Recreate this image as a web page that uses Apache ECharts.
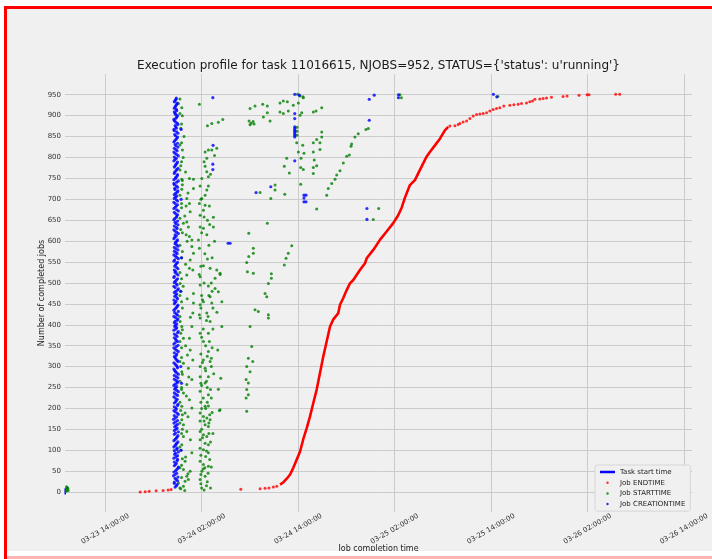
<!DOCTYPE html>
<html><head><meta charset="utf-8">
<script src="https://cdn.jsdelivr.net/npm/echarts@6/dist/echarts.min.js"></script>
<style>
html,body{margin:0;padding:0;background:#fff;}
#wrap{position:relative;width:712px;height:559px;overflow:hidden;background:#fff;}
#bg{position:absolute;left:7px;top:9px;width:705px;height:542px;background:#f0f0f0;}
#chart{position:absolute;left:0;top:0;width:712px;height:559px;}
.red{position:absolute;background:#ff0000;z-index:5;}
#bottomWhite{position:absolute;left:7px;top:551px;width:705px;height:8px;background:#fff;z-index:4;}
#pink{position:absolute;left:7px;top:556px;width:705px;height:3px;background:#ffb4b4;z-index:5;}
</style></head>
<body>
<div id="wrap"><div id="bg"></div><div id="chart"></div>
<div class="red" style="left:4px;top:6px;width:3px;height:553px"></div>
<div class="red" style="left:4px;top:6px;width:708px;height:3px"></div>
<div id="bottomWhite"></div><div id="pink"></div></div>
<script>
// ---- data (x = hours since 03-23 00:00, y = number of completed jobs) ----
const titleText = "Execution profile for task 11016615, NJOBS=952, STATUS={'status': u'running'}";
const xTickLabels = ['03-23 14:00:00','03-24 02:00:00','03-24 14:00:00','03-25 02:00:00','03-25 14:00:00','03-26 02:00:00','03-26 14:00:00'];
const yTicks = [0,50,100,150,200,250,300,350,400,450,500,550,600,650,700,750,800,850,900,950];
const xRangeHours = [9, 87];
const yRange = [-47.6, 999.6];

const taskStart = [[9.03,-6],[9.03,9]];

const endDots = [[18.35,0],[18.97,1],[19.47,2],[20.34,3],[21.21,4],[21.83,5],[22.20,6],[30.87,7],[33.27,8],[33.89,9],[34.38,10],[34.92,12],[35.34,14],
 [56.88,875],[57.50,876],[57.91,879],[58.12,881],[58.53,885],[58.96,887],[59.37,893],[59.78,899],[60.20,903],[60.61,904],[61.02,905],[61.44,907],[61.85,911],[62.26,915],[62.68,917],[63.09,919],[63.59,923],[64.34,925],[64.84,926],[65.37,927],[65.79,929],[66.41,930],[66.82,933],[67.16,935],[67.45,939],[68.07,940],[68.48,941],[68.90,942],[69.52,944],[70.96,946],[71.46,947],[72.95,949],[73.95,950],[74.19,950],[77.51,951],[78.01,951]];

const endCurve = [[35.75,18],[36.16,23],[36.58,32],[37.00,42],[37.40,58],[37.83,78],[38.24,97],[38.65,127],[39.07,153],[39.48,181],[39.89,213],[40.31,245],[40.72,285],[41.13,324],[41.55,360],[41.97,396],[42.38,413],[43.00,428],[43.21,448],[43.62,464],[44.04,483],[44.45,499],[44.86,507],[45.69,531],[46.32,547],[46.53,559],[47.35,579],[48.18,603],[49.01,623],[49.83,643],[50.45,662],[50.88,680],[51.29,704],[51.91,734],[52.53,746],[52.94,762],[53.56,786],[53.98,802],[54.39,813],[55.02,829],[55.64,845],[56.26,865],[56.67,873]];

const startTimes = [
 [9.15,2],[9.20,5],[9.30,8],[9.25,11],[9.40,4],[9.35,9],[9.20,13],
 // column next to creation times
 [23.11,929],[23.53,919],[23.61,818],[23.53,748],[23.53,724],[24.48,750],[24.98,748],[24.98,726],[24.15,702],[24.48,690],[24.07,684],[24.57,670],[23.73,643],[24.15,646],[24.35,634],[24.07,615],[24.48,611],[24.78,603],[24.78,587],[24.98,571],[24.57,555],[24.48,535],[24.90,531],[24.15,519],
 [23.30,940],[23.60,900],[23.40,870],[23.80,850],[23.50,835],[23.70,800],[23.40,780],[24.00,765],[23.60,735],[24.30,715],[23.50,690],[23.90,660],[23.40,628],[24.20,600],[23.60,575],[24.00,545],[23.50,510],
 [23.32,499],[24.98,475],[24.98,452],[24.90,428],[23.32,408],[23.53,396],[24.78,396],[23.73,368],[24.48,368],[24.57,340],[24.23,328],[24.90,316],[23.73,308],[24.35,296],[23.53,288],[24.78,269],[24.15,257],[23.73,237],[24.48,221],[23.53,205],[24.78,201],[23.94,189],[23.53,173],[23.73,161],[24.15,145],[23.73,133],[23.53,113],[24.78,94],[23.94,74],[23.73,54],[24.57,50],[24.15,38],[23.94,26],[24.35,30],[23.11,22],[23.73,14],
 [23.40,480],[24.20,462],[23.60,440],[24.60,418],[23.40,380],[24.00,350],[23.50,322],[24.40,275],[23.50,250],[24.10,230],[23.40,195],[24.30,180],[23.60,150],[24.60,125],[23.40,100],[24.00,84],[23.50,64],[24.30,44],[23.40,8],[23.90,4],
 [23.30,10],[23.50,35],[23.30,58],[23.60,80],[23.30,108],[23.50,140],[23.30,165],[23.60,185],[23.30,215],[23.50,245],[23.30,265],[23.60,282],[23.30,312],[23.50,345],[23.30,360],[23.60,388],[23.30,420],[23.50,455],[23.30,470],[23.70,492],[23.30,525],[23.50,560],[23.30,590],[23.60,620],[23.30,655],[23.50,680],[23.30,710],[23.60,745],[23.30,770],[23.50,790],[23.30,830],[23.50,880],[23.30,905],
 // second column
 [25.72,927],[26.72,876],[27.26,881],[28.08,884],[28.63,891],
 [26.43,813],[26.84,818],[27.26,818],[27.88,822],[26.64,798],[26.43,779],[26.64,766],[26.84,754],[26.02,750],[25.81,732],[26.84,732],[26.64,722],[26.43,710],[26.02,702],[25.72,690],[26.43,686],[26.96,684],[26.22,674],[25.81,662],[26.30,658],[27.46,657],[26.72,650],[27.46,634],[26.22,631],[25.81,634],[26.64,615],[25.60,603],[25.72,583],[26.72,557],[26.22,541],[27.05,535],[27.88,531],[28.29,523],[27.67,511],[25.81,515],
 [27.60,600],[26.00,620],[27.00,640],[25.90,700],[27.10,760],[26.30,790],[27.60,805],
 [25.81,495],[26.84,493],[27.67,487],[28.08,479],[27.05,467],[26.22,455],[28.51,455],[27.26,452],[25.81,448],[25.72,424],[26.64,428],[25.81,416],[27.05,408],[28.51,396],[25.81,380],[26.84,380],[26.22,360],[26.96,360],[26.84,336],[26.22,316],[27.05,312],[25.81,300],[26.43,296],[25.81,276],[26.84,276],[28.38,272],[26.43,261],[28.08,246],[25.81,241],[26.84,233],[26.43,205],[26.84,206],[28.21,195],[25.81,189],[26.22,181],[26.64,177],[27.05,173],[26.43,161],[26.84,157],[25.81,145],[26.22,137],[26.64,133],[25.81,125],[26.43,117],[26.84,113],[26.22,101],[26.84,94],[25.81,74],[26.22,66],[26.84,62],[26.02,50],[26.43,38],[25.81,30],[28.29,197],
 [25.70,520],[26.30,500],[27.30,480],[26.00,470],[25.90,440],[26.60,410],[27.40,390],[26.00,370],[26.50,350],[25.90,330],[27.20,320],[26.50,290],[27.50,283],[25.90,260],[26.70,250],[27.20,225],[25.90,215],[26.50,200],[27.30,190],[25.80,170],[26.90,165],[26.00,150],[27.40,140],[25.80,105],[26.50,85],[27.00,78],[26.20,55],[26.80,45],[25.90,20],[26.60,15],[27.10,10],[26.30,5],[28.00,340],[27.90,430],[28.30,520],
 [26.00,10],[26.70,25],[25.90,42],[26.40,58],[27.20,60],[25.90,88],[26.60,98],[27.10,120],[26.10,130],[26.90,140],[26.30,170],[27.00,185],[26.00,200],[26.70,215],[26.20,225],[27.10,245],[26.00,255],[26.60,265],[27.20,300],[26.10,310],[26.70,325],[27.30,345],[26.20,390],[26.80,420],[27.40,440],[26.10,460],[26.90,470],[27.20,500],[25.90,540],[26.40,570],[27.30,560],[26.90,590],
 // third column
 [34.30,499],[33.89,475],[34.10,467],[32.64,436],[33.05,432],[34.30,424],[34.30,416],[32.02,396],[32.23,348],[31.81,320],[32.36,312],[31.61,300],[32.02,288],[31.53,269],[31.81,261],[31.61,245],[31.81,233],[31.53,225],[31.61,193],
 [31.86,619],[32.43,583],[32.43,571],[31.86,563],[31.61,549],[31.69,527],[32.43,523],[34.67,522],[34.67,511],[37.21,589],[36.78,571],[36.50,559],[36.28,543],[34.17,643],
 // upper scattered
 [32.02,917],[32.64,923],[33.60,927],[34.17,923],[34.17,907],[33.68,897],[34.51,887],[31.90,887],[32.15,882],[32.40,886],[32.02,878],[32.52,880],
 [35.75,930],[36.16,935],[36.66,933],[37.40,925],[38.03,930],[38.65,943],[35.75,909],[36.16,905],[36.78,911],[38.24,901],[38.45,907],[39.89,909],[40.23,911],[40.94,919],
 [37.93,951],[38.24,947],[38.61,945],
 [37.86,872],[37.86,863],[37.86,853],[37.83,835],[38.57,829],[38.03,813],[38.73,810],[38.36,798],[36.58,798],[36.28,779],[36.91,763],[38.32,776],[38.65,771],[38.32,736],
 [39.89,835],[40.31,843],[40.94,849],[40.94,861],[40.72,819],[39.89,813],[40.01,794],[39.89,776],[39.89,762],[40.31,780],[40.72,835],
 [35.13,734],[35.13,722],[33.27,716],[34.60,702],[36.34,712],[40.31,677],
 [41.56,710],[41.75,726],[42.18,738],[42.59,748],[42.80,758],[43.21,768],[43.62,787],[44.04,803],[44.37,806],[44.58,827],[44.66,832],[45.07,849],[45.48,857],[46.44,867],[46.73,869],
 [47.35,652],[48.02,678],
 [50.67,950],[50.85,943],[62.85,946]
];

const creationTimes = [
 [22.70,12],[22.95,18],[22.60,24],[22.85,30],[23.05,36],[22.70,42],[22.55,48],[22.90,54],[23.10,60],[22.75,66],[22.60,72],[23.00,78],[22.80,84],[22.65,90],[23.10,96],[22.90,102],[22.55,108],[22.80,114],[23.05,120],[22.70,126],[22.95,132],[22.60,138],[23.10,144],[22.80,150],[22.65,156],[23.00,162],[22.75,168],[22.50,174],[22.90,180],[23.10,186],[22.70,192],[22.85,198],[22.60,204],[23.05,210],[22.75,216],[22.95,222],[22.55,228],[22.80,234],[23.10,240],[22.65,246],[22.90,252],[22.70,258],[23.00,264],[22.60,270],[22.85,276],[23.10,282],[22.75,288],[22.55,294],[22.95,300],[22.70,306],[23.05,312],[22.80,318],[22.60,324],[22.90,330],[23.10,336],[22.70,342],[22.85,348],[22.55,354],[23.00,360],[22.75,366],[22.95,372],[22.60,378],[23.10,384],[22.80,390],[22.65,396],[22.90,402],[22.70,408],[23.05,414],[22.55,420],[22.85,426],[23.10,432],[22.70,438],[22.95,444],[22.60,450],[22.80,456],[23.00,462],[22.65,468],[22.90,474],[22.75,480],[23.10,486],[22.55,492],[22.85,498],[22.70,504],[23.00,510],[22.60,516],[22.90,522],[22.75,528],[23.05,534],[22.65,540],[22.85,546],[22.55,552],[23.10,558],[22.75,564],[22.95,570],[22.60,576],[22.80,582],[23.05,588],[22.70,594],[22.90,600],[22.55,606],[22.85,612],[23.10,618],[22.70,624],[22.95,630],[22.60,636],[22.80,642],[23.00,648],[22.65,654],[22.90,660],[22.75,666],[23.10,672],[22.55,678],[22.85,684],[22.70,690],[23.00,696],[22.60,702],[22.90,708],[22.75,714],[23.05,720],[22.65,726],[22.85,732],[22.55,738],[23.10,744],[22.75,750],[22.95,756],[22.60,762],[22.80,768],[23.05,774],[22.70,780],[22.90,786],[22.55,792],[22.85,798],[23.10,804],[22.70,810],[22.95,816],[22.60,822],[22.80,828],[23.00,834],[22.65,840],[22.90,846],[22.75,852],[23.05,858],[22.60,864],[22.85,870],[22.70,876],[22.95,882],[22.60,888],[22.80,894],[23.00,900],[22.70,906],[22.90,912],[22.60,918],[22.80,924],[22.95,930],[22.70,936],[22.85,942],
 [22.85,15],[22.60,21],[23.00,27],[22.70,33],[22.50,39],[22.90,45],[22.75,51],[23.05,57],[22.60,63],[22.85,69],[22.95,75],[22.55,81],[23.00,87],[22.75,93],[22.60,99],[22.95,105],[22.70,111],[22.90,117],[22.55,123],[22.85,129],[23.05,135],[22.75,141],[22.60,147],[22.95,153],[22.80,159],[22.55,165],[23.00,171],[22.70,177],[22.60,183],[22.95,189],[22.55,195],[22.80,201],[23.00,207],[22.60,213],[22.85,219],[22.70,225],[23.00,231],[22.60,237],[22.90,243],[22.75,249],[22.55,255],[22.95,261],[22.80,267],[23.05,273],[22.60,279],[22.90,285],[22.65,291],[23.00,297],[22.85,303],[22.55,309],[22.95,315],[22.70,321],[22.85,327],[22.60,333],[22.90,339],[22.55,345],[23.05,351],[22.70,357],[22.85,363],[22.60,369],[22.80,375],[23.00,381],[22.55,387],[22.90,393],[22.75,399],[22.60,405],[22.95,411],[22.75,417],[23.00,423],[22.65,429],[22.55,435],[22.85,441],[23.05,447],[22.70,453],[22.55,459],[22.90,465],[22.80,471],[22.60,477],[23.00,483],[22.70,489],[22.95,495],[22.60,501],[22.85,507],[22.55,513],[23.05,519],[22.70,525],[22.60,531],[22.90,537],[22.75,543],[23.00,549],[22.65,555],[22.90,561],[22.55,567],[22.80,573],[23.05,579],[22.60,585],[22.90,591],[22.75,597],[23.00,603],[22.65,609],[22.70,615],[22.90,621],[22.55,627],[22.85,633],[23.05,639],[22.70,645],[22.55,651],[22.85,657],[23.00,663],[22.60,669],[22.90,675],[22.70,681],[23.00,687],[22.55,693],[22.85,699],[22.75,705],[22.60,711],[22.95,717],[22.70,723],[23.00,729],[22.60,735],[22.90,741],[22.55,747],[22.80,753],[23.00,759],[22.65,765],[22.90,771],[22.60,777],[22.80,783],[23.00,789],[22.70,795],[22.60,801],[22.90,807],[22.55,813],[22.80,819],[23.05,825],[22.70,831],[22.55,837],[22.80,843],[23.00,849],[22.65,855],[22.90,861],[22.55,867],[22.80,873],[23.05,879],[22.75,885],[22.55,891],[22.90,897],[22.75,903],[22.60,909],[22.85,915],[22.70,921],[22.90,927],[22.60,933],[22.80,939],
 [23.45,100],[23.50,260],[23.40,480],[23.45,700],[23.45,867],[23.40,300],[23.50,560],
 [27.39,943],[27.42,829],[27.39,784],[27.39,771],[29.29,595],[29.54,595],[32.77,716],[34.60,730],
 [37.58,951],[38.15,949],[37.58,905],[37.58,893],[37.58,873],[37.58,869],[37.58,865],[37.58,861],[37.58,857],[37.58,853],[37.58,849],[37.58,792],
 [38.73,710],[38.73,703],[38.73,694],[38.98,710],[38.98,694],
 [46.85,939],[47.47,949],[46.85,889],[46.56,678],[46.56,652],
 [50.48,950],[50.48,943],[62.29,951],[62.72,945]
];

// ---- helpers ----
const BASE = Date.UTC(2016, 2, 23);
const toTs = h => BASE + h * 3600000;
const pts = arr => arr.map(p => [toTs(p[0]), p[1]]);
const parseTick = s => Date.UTC(2016, +s.slice(0,2) - 1, +s.slice(3,5), +s.slice(6,8), +s.slice(9,11), +s.slice(12,14));
const xTickValues = xTickLabels.map(parseTick);
const pad = n => (n < 10 ? '0' : '') + n;
const fmt = v => { const d = new Date(v); return pad(d.getUTCMonth()+1) + '-' + pad(d.getUTCDate()) + ' ' + pad(d.getUTCHours()) + ':' + pad(d.getUTCMinutes()) + ':' + pad(d.getUTCSeconds()); };

const FONT = '"DejaVu Sans", sans-serif';
const chart = echarts.init(document.getElementById('chart'), null, {renderer: 'canvas'});
chart.setOption({
  animation: false,
  backgroundColor: 'transparent',
  textStyle: {fontFamily: FONT},
  graphic: [{
    type: 'text', x: 378.5, y: 66, z: 10,
    style: {text: titleText, font: '12px ' + FONT, fill: '#1a1a1a', align: 'center', verticalAlign: 'middle'}
  }],
  grid: {left: 65, right: 20, top: 74, bottom: 47, outerBoundsMode: 'none', containLabel: false},
  legend: {
    orient: 'vertical', left: 595, top: 465,
    padding: [3, 5, 3, 5], itemGap: 2.7, itemWidth: 15, itemHeight: 2.5,
    backgroundColor: '#f0f0f0', borderColor: '#d6d6d6', borderWidth: 1, borderRadius: 2,
    textStyle: {fontFamily: FONT, fontSize: 7, color: '#222', lineHeight: 8},
    data: [{name: 'Task start time', icon: 'rect'}, {name: 'Job ENDTIME', icon: 'circle'}, {name: 'Job STARTTIME', icon: 'circle'}, {name: 'Job CREATIONTIME', icon: 'circle'}]
  },
  xAxis: {
    type: 'value', min: toTs(xRangeHours[0]), max: toTs(xRangeHours[1]),
    name: 'Job completion time', nameLocation: 'middle', nameGap: 33, nameMoveOverlap: false,
    nameTextStyle: {fontFamily: FONT, fontSize: 8, color: '#222'},
    axisLine: {show: false},
    axisTick: {show: false, customValues: xTickValues},
    axisLabel: {customValues: xTickValues, formatter: v => fmt(v), rotate: 30, align: 'center', verticalAlign: 'middle', margin: 17, fontFamily: FONT, fontSize: 7, color: '#333'},
    splitLine: {show: true, lineStyle: {color: '#cbcbcb', width: 1}}
  },
  yAxis: {
    type: 'value', min: yRange[0], max: yRange[1],
    name: 'Number of completed jobs', nameLocation: 'middle', nameGap: 19, nameRotate: 90, nameMoveOverlap: false,
    nameTextStyle: {fontFamily: FONT, fontSize: 8, color: '#222'},
    axisLine: {show: false},
    axisTick: {show: false, customValues: yTicks},
    axisLabel: {customValues: yTicks, margin: 4, fontFamily: FONT, fontSize: 7, color: '#333'},
    splitLine: {show: true, lineStyle: {color: '#cbcbcb', width: 1}}
  },
  series: [
    {name: 'Task start time', type: 'line', data: pts(taskStart), symbol: 'none', color: '#0000ff', lineStyle: {width: 1.5, color: '#0000ff'}, z: 3},
    {name: 'Job ENDTIME', type: 'scatter', data: pts(endDots), symbolSize: 3, color: '#ff0000', itemStyle: {color: '#ff0000'}, z: 3},
    {name: 'Job ENDTIME', type: 'line', data: pts(endCurve), symbol: 'none', color: '#ff0000', lineStyle: {width: 2.6, color: '#ff0000'}, z: 3},
    {name: 'Job STARTTIME', type: 'scatter', data: pts(startTimes), symbolSize: 3, color: '#008000', itemStyle: {color: '#008000'}, z: 3},
    {name: 'Job CREATIONTIME', type: 'scatter', data: pts(creationTimes), symbolSize: 3.2, color: '#0000ff', itemStyle: {color: '#0000ff'}, z: 4}
  ]
});
</script>
</body></html>
